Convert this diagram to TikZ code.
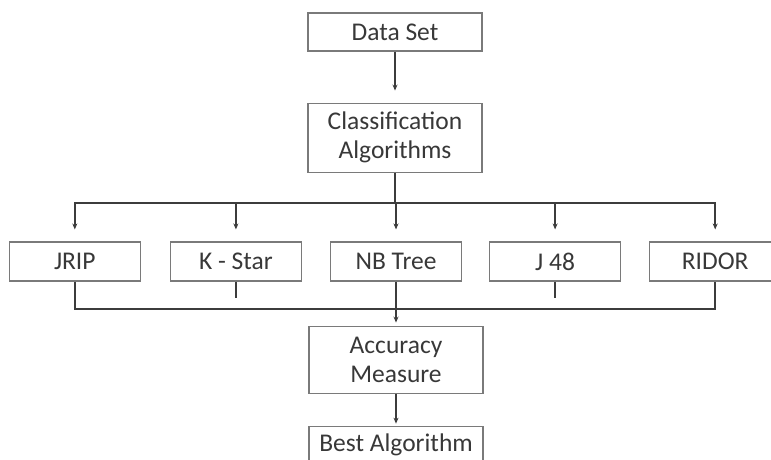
\documentclass[tikz,border=0pt]{standalone}
\usepackage{fontspec}
\setmainfont{Carlito}
\usetikzlibrary{arrows.meta, positioning}

\definecolor{boxgray}{HTML}{7A7A7A}
\definecolor{linegray}{HTML}{3C3C3C}
\definecolor{txtgray}{HTML}{383838}

\tikzset{
  box/.style={draw=boxgray, line width=1.1pt, minimum width=174pt, minimum height=38pt,
    align=center, inner sep=2pt, text=txtgray, font=\fontsize{25.5}{29}\selectfont},
  algo/.style={box, minimum width=131pt, minimum height=39pt},
  wire/.style={draw=linegray, line width=1.6pt},
  link/.style={wire, -{Stealth[length=6pt,width=5pt]}},
}

\begin{document}
\begin{tikzpicture}[x=1pt, y=-1pt]
    \useasboundingbox (0,0) rectangle (771,459);
    \clip (0,0) rectangle (771,459);
    % top of the chain
    \node [box] (data) at (395,32) {Data Set};
    \node [box, below=51pt of data, minimum height=69pt] (classify) {Classification\\Algorithms};
    \draw [link, shorten >=12pt] (data) -- (classify);
    % the five algorithms
    \node [algo] (nbtree) at (396,261.5) {NB Tree};
    \node [algo, left=28pt of nbtree] (kstar) {K - Star};
    \node [algo, left=29pt of kstar] (jrip) {JRIP};
    \node [algo, right=27pt of nbtree] (j48) {J 48};
    \node [algo, right=28pt of j48] (ridor) {RIDOR};
    \coordinate (split) at (395,203);
    \draw [wire] (classify) -- (split);
    \draw [link, shorten >=12pt] (split) -| (jrip);
    \draw [link, shorten >=12pt] (split) -| (ridor);
    \foreach \n in {kstar, nbtree, j48}
      \draw [link, shorten >=12pt] (\n |- split) -- (\n);
    % gather the results
    \node [box, below=44pt of nbtree, minimum height=67pt] (accuracy) {Accuracy\\Measure};
    \coordinate (merge) at (395,309);
    \draw [wire] (jrip.south) |- (merge) -| (ridor.south);
    \draw [link, shorten >=3pt] (nbtree) -- (accuracy);
    \coordinate [below=16pt of kstar.south] (kstub);
    \coordinate [below=16pt of j48.south] (jstub);
    \draw [wire] (kstar) -- (kstub);
    \draw [wire] (j48) -- (jstub);
    \node [box, below=32pt of accuracy] (best) {Best Algorithm};
    \draw [link, shorten >=2pt] (accuracy) -- (best);
\end{tikzpicture}
\end{document}
